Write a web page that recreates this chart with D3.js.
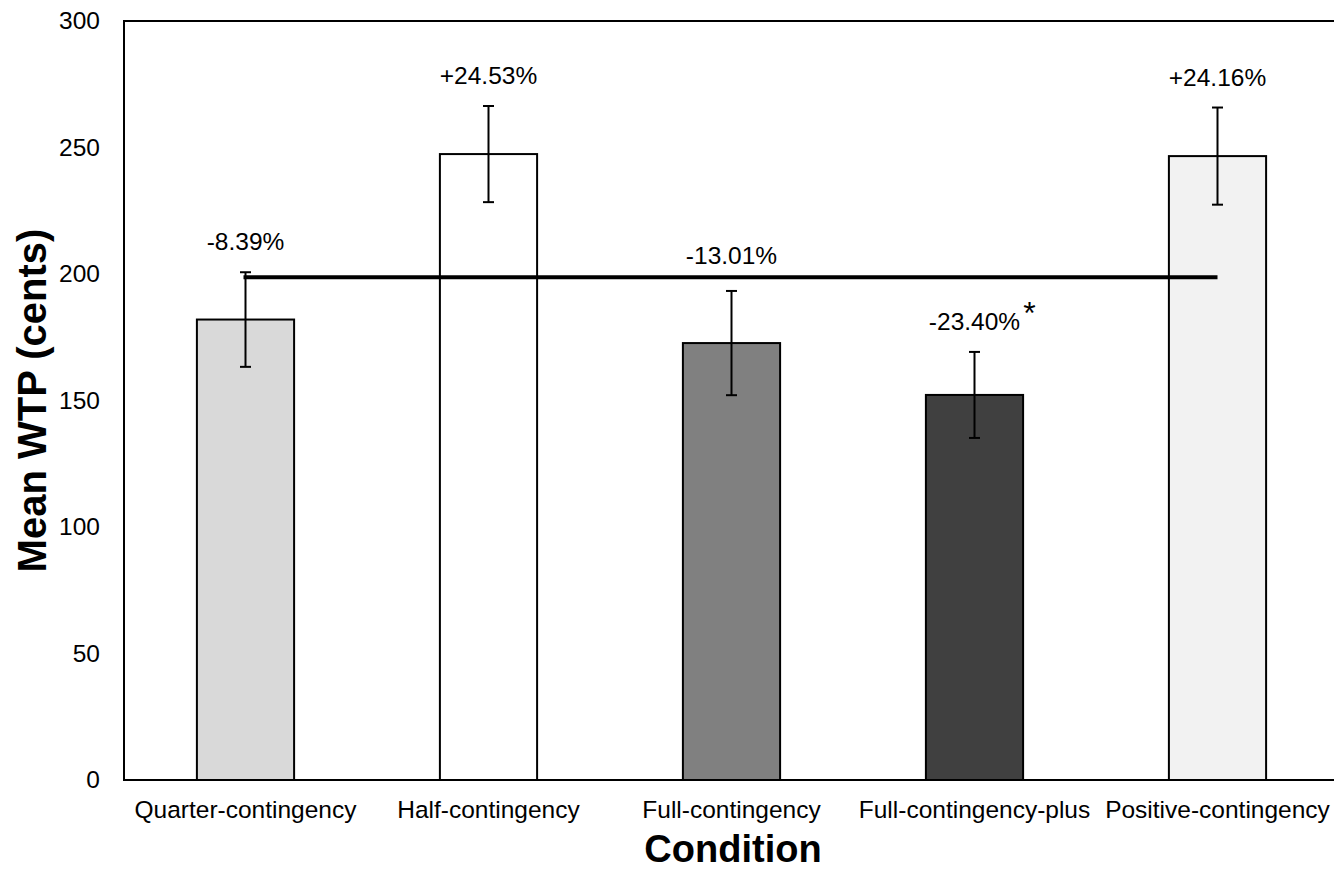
<!DOCTYPE html>
<html>
<head>
<meta charset="utf-8">
<script src="https://cdn.jsdelivr.net/npm/d3@7"></script>
<style>
  body { margin: 0; background: #fff; }
  text { font-family: Arial, "Liberation Sans", sans-serif; fill: #000; }
</style>
</head>
<body>
<div class="plot"></div>
<script>
// chart data
var categories = ["Quarter-contingency", "Half-contingency", "Full-contingency", "Full-contingency-plus", "Positive-contingency"];
var means = [182, 247.4, 172.7, 152.2, 246.6];
var errors = [18.7, 19, 20.6, 17, 19.2];
var pctLabels = ["-8.39%", "+24.53%", "-13.01%", "-23.40%", "+24.16%"];
var significant = [false, false, false, true, false];
var barColors = ["#d9d9d9", "#ffffff", "#808080", "#404040", "#f2f2f2"];
var baseline = 198.7;   // horizontal reference line
var yTicks = [0, 50, 100, 150, 200, 250, 300];

var width = 1334, height = 870;
var margin = { top: 21, right: -5, bottom: 90, left: 124 };

var svg = d3.select(".plot")
  .append("svg")
  .attr("width", width)
  .attr("height", height);

var xScale = d3.scaleBand()
  .domain(categories)
  .range([margin.left, width - margin.right])
  .paddingInner(0.6)
  .paddingOuter(0.3);

var yScale = d3.scaleLinear()
  .domain([0, 300])
  .range([height - margin.bottom, margin.top]);

var data = categories.map(function (c, i) {
  return { cat: c, mean: means[i], err: errors[i], label: pctLabels[i], sig: significant[i], color: barColors[i] };
});

// bars
svg.selectAll(".bar")
  .data(data)
  .enter().append("rect")
  .attr("class", "bar")
  .attr("x", function (d) { return xScale(d.cat); })
  .attr("y", function (d) { return yScale(d.mean); })
  .attr("width", xScale.bandwidth())
  .attr("height", function (d) { return yScale(0) - yScale(d.mean); })
  .style("fill", function (d) { return d.color; })
  .style("stroke", "#000")
  .style("stroke-width", 2);

// error bars
var cx = function (d) { return xScale(d.cat) + xScale.bandwidth() / 2; };
var eb = svg.selectAll(".err").data(data).enter().append("g").attr("class", "err")
  .style("stroke", "#000").style("stroke-width", 2);
eb.append("line")
  .attr("x1", cx).attr("x2", cx)
  .attr("y1", function (d) { return yScale(d.mean + d.err); })
  .attr("y2", function (d) { return yScale(d.mean - d.err); });
eb.append("line")
  .attr("x1", function (d) { return cx(d) - 5.5; }).attr("x2", function (d) { return cx(d) + 5.5; })
  .attr("y1", function (d) { return yScale(d.mean + d.err); })
  .attr("y2", function (d) { return yScale(d.mean + d.err); });
eb.append("line")
  .attr("x1", function (d) { return cx(d) - 5.5; }).attr("x2", function (d) { return cx(d) + 5.5; })
  .attr("y1", function (d) { return yScale(d.mean - d.err); })
  .attr("y2", function (d) { return yScale(d.mean - d.err); });

// reference line across conditions
svg.append("line")
  .attr("x1", cx(data[0]) - 2)
  .attr("x2", cx(data[data.length - 1]))
  .attr("y1", yScale(baseline))
  .attr("y2", yScale(baseline))
  .style("stroke", "#000")
  .style("stroke-width", 4);

// percentage labels
svg.selectAll(".pct")
  .data(data)
  .enter().append("text")
  .attr("class", "pct")
  .attr("x", cx)
  .attr("y", function (d) {
    // the full-contingency label sits a bit higher above the reference line
    return yScale(d.mean + d.err) - (d.cat == "Full-contingency" ? 27 : 22);
  })
  .style("text-anchor", "middle")
  .style("font-size", "24.5px")
  .text(function (d) { return d.label; })
  .each(function (d) {
    if (d.sig) {
      var w = this.getComputedTextLength();
      svg.append("text")
        .attr("x", cx(d) + w / 2 + 3)
        .attr("y", yScale(d.mean + d.err) - 28)
        .style("font-size", "32px")
        .text("*");
    }
  });

// frame: left, top, bottom
var x0 = margin.left, x1 = width;
svg.append("g").style("stroke", "#000").style("stroke-width", 2)
  .call(function (g) {
    g.append("line").attr("x1", x0).attr("x2", x0).attr("y1", yScale(300)).attr("y2", yScale(0));
    g.append("line").attr("x1", x0 - 1).attr("x2", x1).attr("y1", yScale(300)).attr("y2", yScale(300));
    g.append("line").attr("x1", x0 - 1).attr("x2", x1).attr("y1", yScale(0)).attr("y2", yScale(0));
  });

// y axis tick labels
var yAxis = d3.axisLeft(yScale).tickValues(yTicks).tickSize(0).tickPadding(24);
var gy = svg.append("g").attr("transform", "translate(" + x0 + ",0)").call(yAxis);
gy.select(".domain").remove();
gy.selectAll("text").style("font-size", "24.5px").style("font-family", "Arial, 'Liberation Sans', sans-serif").attr("fill", "#000");

// x axis labels
var xAxis = d3.axisBottom(xScale).tickSize(0).tickPadding(21);
var gx = svg.append("g").attr("transform", "translate(0," + yScale(0) + ")").call(xAxis);
gx.select(".domain").remove();
gx.selectAll("text").style("font-size", "24.5px").style("font-family", "Arial, 'Liberation Sans', sans-serif").attr("fill", "#000");

// axis titles
svg.append("text")
  .attr("x", (x0 + width) / 2 + 4)
  .attr("y", 862)
  .style("text-anchor", "middle")
  .style("font-size", "38px")
  .style("font-weight", "bold")
  .text("Condition");

svg.append("text")
  .attr("transform", "translate(46," + (yScale(150)) + ") rotate(-90)")
  .style("text-anchor", "middle")
  .style("font-size", "40px")
  .style("font-weight", "bold")
  .text("Mean WTP (cents)");
</script>
</body>
</html>
